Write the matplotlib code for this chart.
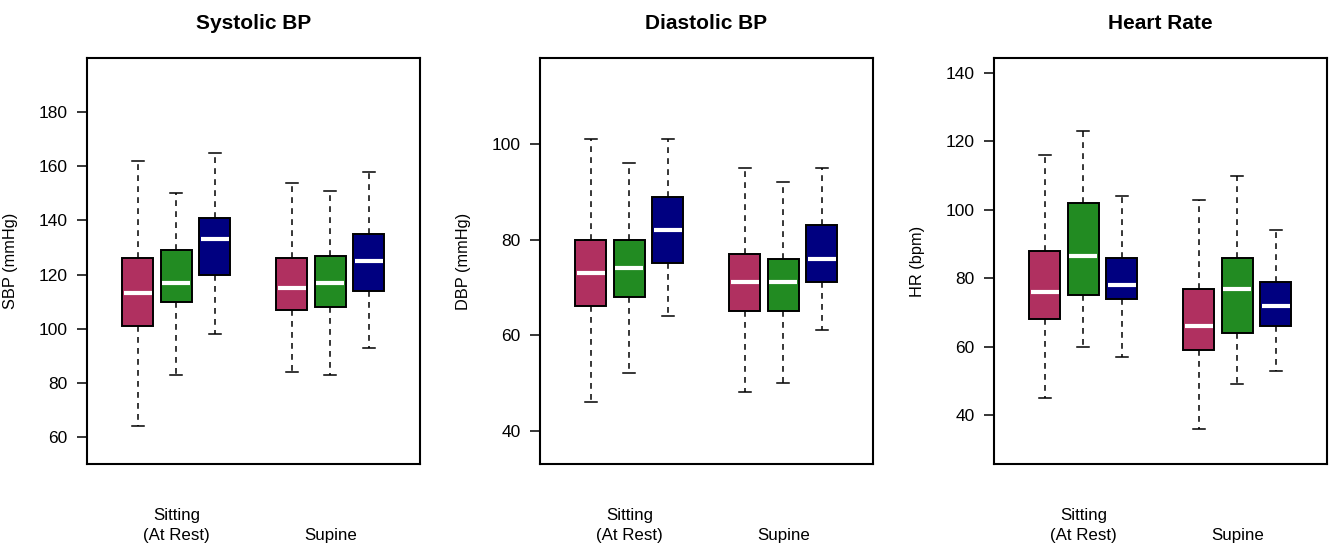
import matplotlib
matplotlib.use('Agg')
import matplotlib.pyplot as plt

plt.rcParams['font.family'] = ['Liberation Sans', 'DejaVu Sans']

# groups / colours (R: maroon, forestgreen, navy)
colors = ['#B03060', '#228B22', '#000080']
positions = [1, 2, 3, 5, 6, 7]
group_labels = ['Sitting\n(At Rest)', '\nSupine']
group_centers = [2, 6]

# five-number summaries per box, order: sitting x3, supine x3
sbp_low = [64, 83, 98, 84, 83, 93]
sbp_q1 = [101, 110, 120, 107, 108, 114]
sbp_med = [113, 117, 133, 115, 117, 125]
sbp_q3 = [126, 129, 141, 126, 127, 135]
sbp_high = [162, 150, 165, 154, 151, 158]

dbp_low = [46, 52, 64, 48, 50, 61]
dbp_q1 = [66, 68, 75, 65, 65, 71]
dbp_med = [73, 74, 82, 71, 71, 76]
dbp_q3 = [80, 80, 89, 77, 76, 83]
dbp_high = [101, 96, 101, 95, 92, 95]

hr_low = [45, 60, 57, 36, 49, 53]
hr_q1 = [68, 75, 74, 59, 64, 66]
hr_med = [76, 86.5, 78, 66, 77, 72]
hr_q3 = [88, 102, 86, 77, 86, 79]
hr_high = [116, 123, 104, 103, 110, 94]

panels = [
    ('Systolic BP', 'SBP (mmHg)', (50, 200), [60, 80, 100, 120, 140, 160, 180],
     (sbp_low, sbp_q1, sbp_med, sbp_q3, sbp_high)),
    ('Diastolic BP', 'DBP (mmHg)', (33, 118), [40, 60, 80, 100],
     (dbp_low, dbp_q1, dbp_med, dbp_q3, dbp_high)),
    ('Heart Rate', 'HR (bpm)', (25.7, 144.4), [40, 60, 80, 100, 120, 140],
     (hr_low, hr_q1, hr_med, hr_q3, hr_high)),
]

W, H = 1334, 548
fig = plt.figure(figsize=(W / 100, H / 100), dpi=100)
lefts = [87, 540, 994]
ax_w, ax_top, ax_bot = 333, 58, 464

for left, (title, ylabel, ylim, yticks, stats5) in zip(lefts, panels):
    ax = fig.add_axes([left / W, (H - ax_bot) / H, ax_w / W, (ax_bot - ax_top) / H])
    low, q1, med, q3, high = stats5
    stats = [dict(whislo=a, q1=b, med=c, q3=d, whishi=e, fliers=[])
             for a, b, c, d, e in zip(low, q1, med, q3, high)]
    bp = ax.bxp(stats, positions=positions, widths=0.8, capwidths=0.32,
                patch_artist=True, showfliers=False,
                boxprops=dict(edgecolor='black', linewidth=1.4),
                whiskerprops=dict(color='black', linewidth=1.1, linestyle=(0, (3.8, 3.4))),
                capprops=dict(color='black', linewidth=1.1),
                medianprops=dict(color='white', linewidth=3.0, solid_capstyle='butt'))
    for i, box in enumerate(bp['boxes']):
        box.set_facecolor(colors[i % 3])
    # shorten medians slightly so they sit inside the box border
    for m in bp['medians']:
        xd = m.get_xdata()
        m.set_xdata([xd[0] + 0.04, xd[1] - 0.04])

    ax.set_xlim(-0.32, 8.33)
    ax.set_ylim(*ylim)
    ax.set_yticks(yticks)
    ax.set_xticks(group_centers)
    ax.set_xticklabels(group_labels, fontsize=12.2, linespacing=1.4)
    ax.tick_params(axis='x', length=0, pad=32)
    ax.tick_params(axis='y', length=7, width=1.1, pad=7, labelsize=12.5)
    for sp in ax.spines.values():
        sp.set_linewidth(1.5)
    ax.set_title(title, fontsize=15, fontweight='bold', pad=21)
    ax.set_ylabel(ylabel, fontsize=11.8)
    ax.yaxis.set_label_coords(-69 / ax_w, 0.5)

fig.savefig('out.png', dpi=100)
